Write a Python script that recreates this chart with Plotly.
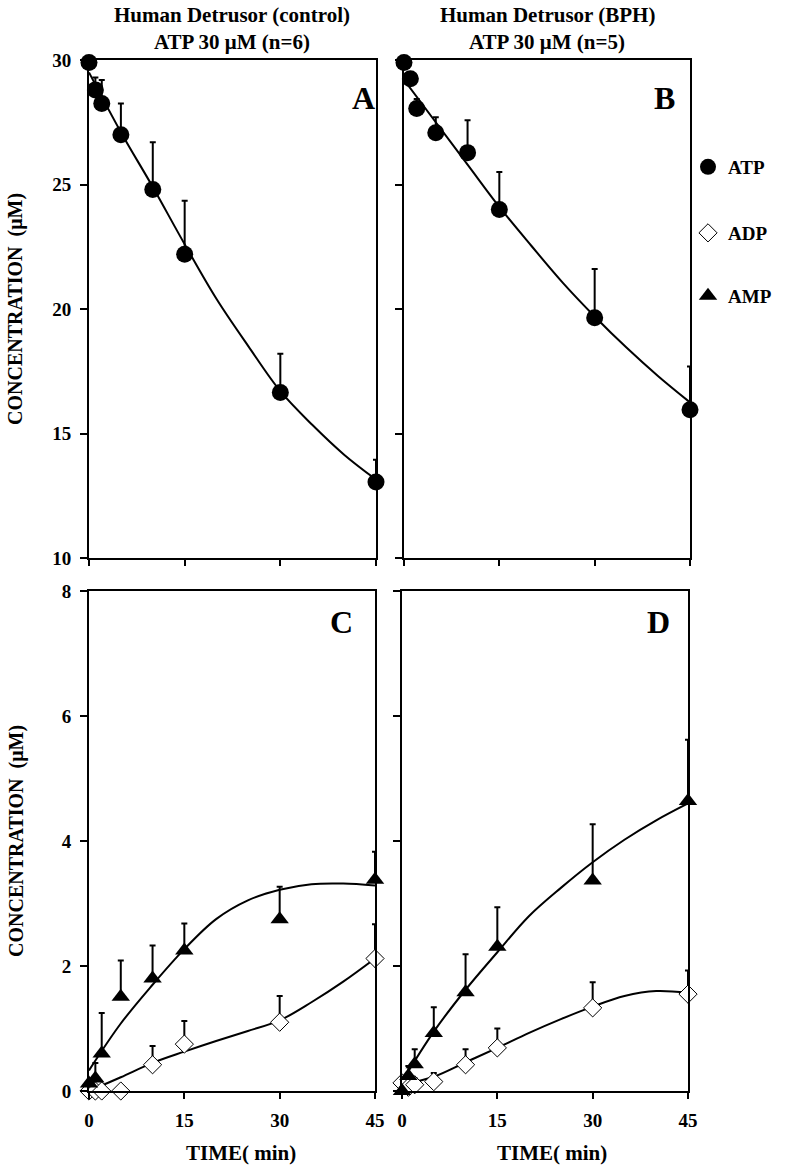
import plotly.graph_objects as go

# ---------------- data ----------------
time = [0, 1, 2, 5, 10, 15, 30, 45]

atp_ctrl = [29.9, 28.8, 28.25, 27.0, 24.8, 22.2, 16.65, 13.05]
atp_ctrl_err = [0, 0.5, 0.95, 1.25, 1.9, 2.15, 1.55, 0.9]
atp_bph = [29.9, 29.25, 28.05, 27.08, 26.28, 24.0, 19.65, 15.95]
atp_bph_err = [0, 0, 0.38, 0.62, 1.3, 1.5, 1.96, 1.74]

adp_ctrl = [0, 0, 0, 0, 0.42, 0.75, 1.1, 2.12]
adp_ctrl_err = [0, 0, 0, 0, 0.3, 0.37, 0.42, 0.55]
amp_ctrl = [0.12, 0.2, 0.6, 1.51, 1.8, 2.25, 2.75, 3.38]
amp_ctrl_err = [0, 0.25, 0.65, 0.58, 0.53, 0.43, 0.52, 0.45]

adp_bph = [0.13, 0.06, 0.1, 0.15, 0.42, 0.69, 1.33, 1.55]
adp_bph_err = [0, 0.08, 0.1, 0.14, 0.25, 0.31, 0.41, 0.38]
amp_bph = [0.0, 0.24, 0.43, 0.93, 1.58, 2.31, 3.37, 4.64]
amp_bph_err = [0, 0.16, 0.24, 0.41, 0.61, 0.63, 0.9, 0.98]

# fitted curves
fit_time = [0, 5, 10, 15, 20, 25, 30, 35, 40, 45]
atp_ctrl_fit = [29.5, 27.1, 24.9, 22.6, 20.4, 18.5, 16.7, 15.35, 14.15, 13.15]
atp_bph_fit = [29.2, 27.5, 25.8, 24.1, 22.55, 21.05, 19.7, 18.45, 17.3, 16.25]
amp_ctrl_fit = [0.33, 1.08, 1.7, 2.27, 2.75, 3.05, 3.22, 3.31, 3.32, 3.29]
adp_ctrl_fit = [0.0, 0.22, 0.45, 0.63, 0.8, 0.96, 1.13, 1.42, 1.75, 2.12]
amp_bph_fit = [0.15, 0.95, 1.62, 2.22, 2.8, 3.25, 3.66, 4.02, 4.33, 4.6]
adp_bph_fit = [0.1, 0.23, 0.46, 0.69, 0.93, 1.15, 1.35, 1.52, 1.6, 1.57]

x_ticks = [0, 15, 30, 45]
top_y_ticks = [10, 15, 20, 25, 30]
bot_y_ticks = [0, 2, 4, 6, 8]

titles = [["Human Detrusor (control)", "ATP 30 \u03bcM (n=6)"],
          ["Human Detrusor (BPH)", "ATP 30 \u03bcM (n=5)"]]
panel_letters = ["A", "B", "C", "D"]

# ---------------- figure ----------------
W, H = 788, 1170
FONT = "Liberation Serif, Times New Roman, serif"

fig = go.Figure()

def fx(px):
    return px / W

def fy(py):
    return 1 - py / H

panels = {
    # name: (xaxis, yaxis, x0, x1, ytop, ybot) in window pixels
    "A": ("x", "y", 89, 376, 60, 558),
    "B": ("x2", "y2", 404, 690, 60, 558),
    "C": ("x3", "y3", 89, 375, 591, 1091),
    "D": ("x4", "y4", 402, 688, 591, 1091),
}

def curve(xa, ya, yvals):
    fig.add_trace(go.Scatter(x=fit_time, y=yvals, xaxis=xa, yaxis=ya, mode="lines",
                             line=dict(color="black", width=2, shape="spline", smoothing=1.0),
                             showlegend=False, hoverinfo="skip", cliponaxis=False))

def pts(xa, ya, yvals, err, kind, legend=None, name=None):
    if kind == "ATP":
        marker = dict(symbol="circle", size=17, color="black")
    elif kind == "ADP":
        marker = dict(symbol="diamond", size=14, color="white", line=dict(color="black", width=1))
    else:
        marker = dict(symbol="triangle-up", size=16, color="black")
    fig.add_trace(go.Scatter(
        x=time, y=yvals, xaxis=xa, yaxis=ya, mode="markers", marker=marker,
        error_y=dict(type="data", array=err, arrayminus=[0] * len(err), symmetric=False,
                     color="black", thickness=2, width=3),
        cliponaxis=False, name=name, showlegend=legend is not None,
        legend=legend if legend else "legend"))

# curves first
curve("x", "y", atp_ctrl_fit)
curve("x2", "y2", atp_bph_fit)
curve("x3", "y3", amp_ctrl_fit)
curve("x3", "y3", adp_ctrl_fit)
curve("x4", "y4", amp_bph_fit)
curve("x4", "y4", adp_bph_fit)

pts("x", "y", atp_ctrl, atp_ctrl_err, "ATP", legend="legend", name="ATP")
pts("x2", "y2", atp_bph, atp_bph_err, "ATP")
pts("x3", "y3", adp_ctrl, adp_ctrl_err, "ADP", legend="legend2", name="ADP")
pts("x3", "y3", amp_ctrl, amp_ctrl_err, "AMP", legend="legend3", name="AMP")
pts("x4", "y4", adp_bph, adp_bph_err, "ADP")
pts("x4", "y4", amp_bph, amp_bph_err, "AMP")

tickfont = dict(family=FONT, size=19, color="black", weight="bold")

layout = dict(
    width=W, height=H, margin=dict(l=0, r=0, t=0, b=0, autoexpand=False),
    paper_bgcolor="white", plot_bgcolor="white", showlegend=True,
    font=dict(family=FONT, color="black"),
)

for name, (xa, ya, x0, x1, yt, yb) in panels.items():
    xkey = "xaxis" if xa == "x" else "xaxis" + xa[1:]
    ykey = "yaxis" if ya == "y" else "yaxis" + ya[1:]
    top = name in ("A", "B")
    left = name in ("A", "C")
    layout[xkey] = dict(
        domain=[fx(x0), fx(x1)], range=[0, 45], anchor=ya, automargin=False,
        tickvals=x_ticks, ticktext=[str(v) for v in x_ticks],
        showticklabels=not top, ticks="outside", ticklen=6, tickwidth=2, tickcolor="black",
        showline=True, linecolor="black", linewidth=2, mirror=True,
        showgrid=False, zeroline=False, tickfont=tickfont, ticklabelstandoff=5,
    )
    layout[ykey] = dict(
        domain=[fy(yb), fy(yt)], range=[10, 30] if top else [0, 8], anchor=xa, automargin=False,
        tickvals=top_y_ticks if top else bot_y_ticks,
        showticklabels=left, ticks="outside", ticklen=7, tickwidth=2, tickcolor="black",
        showline=True, linecolor="black", linewidth=2, mirror=True,
        showgrid=False, zeroline=False, tickfont=tickfont, ticklabelstandoff=5,
    )

legfont = dict(family=FONT, size=19, color="black", weight="bold")
for key, py in (("legend", 167), ("legend2", 233), ("legend3", 296)):
    layout[key] = dict(x=fx(688), y=fy(py), xanchor="left", yanchor="middle",
                       bgcolor="rgba(0,0,0,0)", font=legfont, itemwidth=30,
                       itemclick=False, itemdoubleclick=False)

fig.update_layout(**layout)

ann = []
# titles
for i, cx in enumerate([232, 547]):
    for j, py in enumerate([15, 42]):
        ann.append(dict(text=titles[i][j], x=fx(cx), y=fy(py), xref="paper", yref="paper",
                        showarrow=False, xanchor="center", yanchor="middle",
                        font=dict(family=FONT, size=21, color="black", weight="bold")))
# panel letters
for letter, (px, py) in zip(panel_letters, [(363, 98), (664, 98), (341, 622), (658, 622)]):
    ann.append(dict(text=letter, x=fx(px), y=fy(py), xref="paper", yref="paper",
                    showarrow=False, xanchor="center", yanchor="middle",
                    font=dict(family=FONT, size=32, color="black", weight="bold")))
# y axis titles
for py in (309, 841):
    ann.append(dict(text="CONCENTRATION  (\u03bcM)", x=fx(16), y=fy(py), xref="paper", yref="paper",
                    showarrow=False, textangle=-90, xanchor="center", yanchor="middle",
                    font=dict(family=FONT, size=20, color="black", weight="bold")))
# x axis titles
for cx in (241, 552):
    ann.append(dict(text="TIME( min)", x=fx(cx), y=fy(1153), xref="paper", yref="paper",
                    showarrow=False, xanchor="center", yanchor="middle",
                    font=dict(family=FONT, size=21, color="black", weight="bold")))
fig.update_layout(annotations=ann)

# remove the browser's default 8px body margin so the figure fills the window exactly
fig.write_html("out.html", config={"displayModeBar": False},
               post_script="document.body.style.margin='0';document.body.style.overflow='hidden';")
